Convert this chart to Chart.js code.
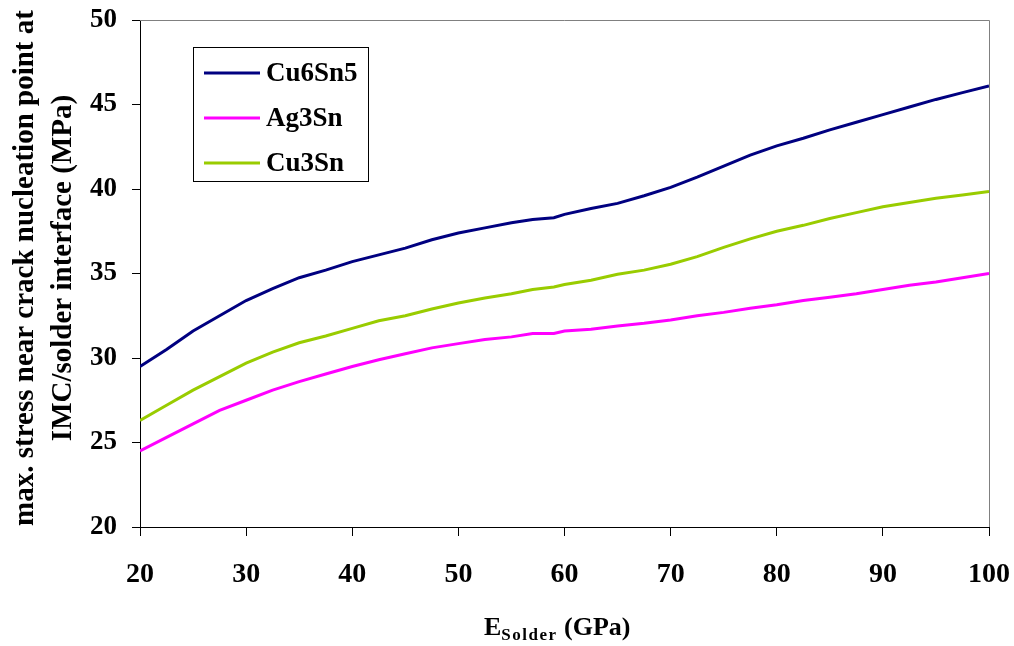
<!DOCTYPE html>
<html>
<head>
<meta charset="utf-8">
<script src="https://cdn.jsdelivr.net/npm/chart.js@4.4.1/dist/chart.umd.min.js"></script>
<style>
  html, body { margin: 0; padding: 0; background: #fff; }
  #wrap { width: 1014px; height: 646px; }
</style>
</head>
<body>
<div id="wrap"><canvas id="stressChart" width="1014" height="646"></canvas></div>
<script>
// Young's modulus of the solder (GPa)
const eSolder = [20, 22.5, 25, 27.5, 30, 32.5, 35, 37.5, 40, 42.5, 45, 47.5, 50, 52.5, 55, 57, 59, 60,
  62.5, 65, 67.5, 70, 72.5, 75, 77.5, 80, 82.5, 85, 87.5, 90, 92.5, 95, 97.5, 100];

// max. stress near crack nucleation point (MPa)
const cu6sn5 = [29.5, 30.5, 31.6, 32.5, 33.4, 34.1, 34.75, 35.2, 35.7, 36.1, 36.5, 37.0, 37.4, 37.7, 38.0, 38.2, 38.3, 38.5,
  38.85, 39.15, 39.6, 40.1, 40.7, 41.35, 42.0, 42.55, 43.0, 43.5, 43.95, 44.4, 44.85, 45.3, 45.7, 46.1];
const ag3sn = [24.5, 25.3, 26.1, 26.9, 27.5, 28.1, 28.6, 29.05, 29.5, 29.9, 30.25, 30.6, 30.85, 31.1, 31.25, 31.45, 31.45, 31.6,
  31.7, 31.9, 32.05, 32.25, 32.5, 32.7, 32.95, 33.15, 33.4, 33.6, 33.8, 34.05, 34.3, 34.5, 34.75, 35.0];
const cu3sn = [26.3, 27.2, 28.1, 28.9, 29.7, 30.35, 30.9, 31.3, 31.75, 32.2, 32.5, 32.9, 33.25, 33.55, 33.8, 34.05, 34.2, 34.35,
  34.6, 34.95, 35.2, 35.55, 36.0, 36.55, 37.05, 37.5, 37.85, 38.25, 38.6, 38.95, 39.2, 39.45, 39.65, 39.85];

const seriesNames = ["Cu6Sn5", "Ag3Sn", "Cu3Sn"];
const seriesColors = ["#000080", "#FF00FF", "#99CC00"];

const xTicks = [20, 30, 40, 50, 60, 70, 80, 90, 100];
const yTicks = [20, 25, 30, 35, 40, 45, 50];

const yTitle = ["max. stress near crack nucleation point at", "IMC/solder interface (MPa)"];
const serif = "'Liberation Serif', 'Times New Roman', serif";

function toPoints(ys) {
  return ys.map((y, i) => ({ x: eSolder[i], y: y }));
}

const datasets = [cu6sn5, ag3sn, cu3sn].map((ys, i) => ({
  label: seriesNames[i],
  data: toPoints(ys),
  borderColor: seriesColors[i],
  backgroundColor: seriesColors[i],
  borderWidth: 3,
  pointRadius: 0,
  tension: 0,
  fill: false,
}));

// frame, legend box and axis titles
const decorations = {
  id: "decorations",
  afterDraw(chart) {
    const ctx = chart.ctx;
    const a = chart.chartArea;
    ctx.save();

    // top and right edges of the plot box
    ctx.strokeStyle = "#808080";
    ctx.lineWidth = 1;
    ctx.beginPath();
    ctx.moveTo(a.left, a.top + 0.5);
    ctx.lineTo(a.right + 0.5, a.top + 0.5);
    ctx.lineTo(a.right + 0.5, a.bottom);
    ctx.stroke();

    // legend
    const box = { x: 193, y: 47, w: 175, h: 134 };
    ctx.fillStyle = "#fff";
    ctx.fillRect(box.x, box.y, box.w, box.h);
    ctx.strokeStyle = "#000";
    ctx.strokeRect(box.x + 0.5, box.y + 0.5, box.w, box.h);
    ctx.font = "bold 27px " + serif;
    ctx.textBaseline = "middle";
    ctx.textAlign = "left";
    chart.data.datasets.forEach((ds, i) => {
      const y = 73 + i * 45;
      ctx.strokeStyle = ds.borderColor;
      ctx.lineWidth = 3;
      ctx.beginPath();
      ctx.moveTo(204, y);
      ctx.lineTo(260, y);
      ctx.stroke();
      ctx.fillStyle = "#000";
      ctx.fillText(ds.label, 266, y + 1);
    });

    // x axis title with subscript
    ctx.fillStyle = "#000";
    ctx.textBaseline = "alphabetic";
    ctx.font = "bold 26px " + serif;
    const baseX = 484;
    ctx.fillText("E", baseX, 635);
    const eW = ctx.measureText("E").width;
    ctx.font = "bold 17px " + serif;
    let sx = baseX + eW;
    for (const ch of "Solder") {
      ctx.fillText(ch, sx, 640);
      sx += ctx.measureText(ch).width + 1.5;
    }
    ctx.font = "bold 26px " + serif;
    ctx.fillText(" (GPa)", sx, 635);

    // y axis title, two rotated lines
    ctx.font = "bold 29px " + serif;
    ctx.textAlign = "center";
    ctx.textBaseline = "alphabetic";
    ctx.translate(0, 268);
    ctx.rotate(-Math.PI / 2);
    ctx.fillText(yTitle[0], 0, 33);
    ctx.fillText(yTitle[1], 0, 71);
    ctx.restore();
  },
};

new Chart(document.getElementById("stressChart").getContext("2d"), {
  type: "line",
  data: { datasets: datasets },
  options: {
    responsive: false,
    animation: false,
    layout: { padding: { top: 20, right: 25, left: 0, bottom: 0 } },
    plugins: {
      legend: { display: false },
      title: { display: false },
      tooltip: { enabled: false },
    },
    scales: {
      x: {
        type: "linear",
        min: 20,
        max: 100,
        afterBuildTicks: (scale) => { scale.ticks = xTicks.map((v) => ({ value: v })); },
        afterFit: (scale) => {
          scale.height = 119;
          scale.paddingLeft = 0;
          scale.paddingRight = 0;
        },
        grid: { drawOnChartArea: false, drawTicks: true, tickLength: 9, color: "#000" },
        border: { display: true, color: "#000", width: 1 },
        ticks: {
          color: "#000",
          padding: 22,
          maxRotation: 0,
          font: { family: serif, size: 28, weight: "bold" },
        },
      },
      y: {
        min: 20,
        max: 50,
        afterBuildTicks: (scale) => { scale.ticks = yTicks.map((v) => ({ value: v })); },
        afterFit: (scale) => {
          scale.width = 140;
          scale.paddingTop = 0;
          scale.paddingBottom = 0;
        },
        grid: { drawOnChartArea: false, drawTicks: true, tickLength: 8, color: "#000" },
        border: { display: true, color: "#000", width: 1 },
        ticks: {
          color: "#000",
          padding: 15,
          font: { family: serif, size: 27, weight: "bold" },
        },
      },
    },
  },
  plugins: [decorations],
});
</script>
</body>
</html>
